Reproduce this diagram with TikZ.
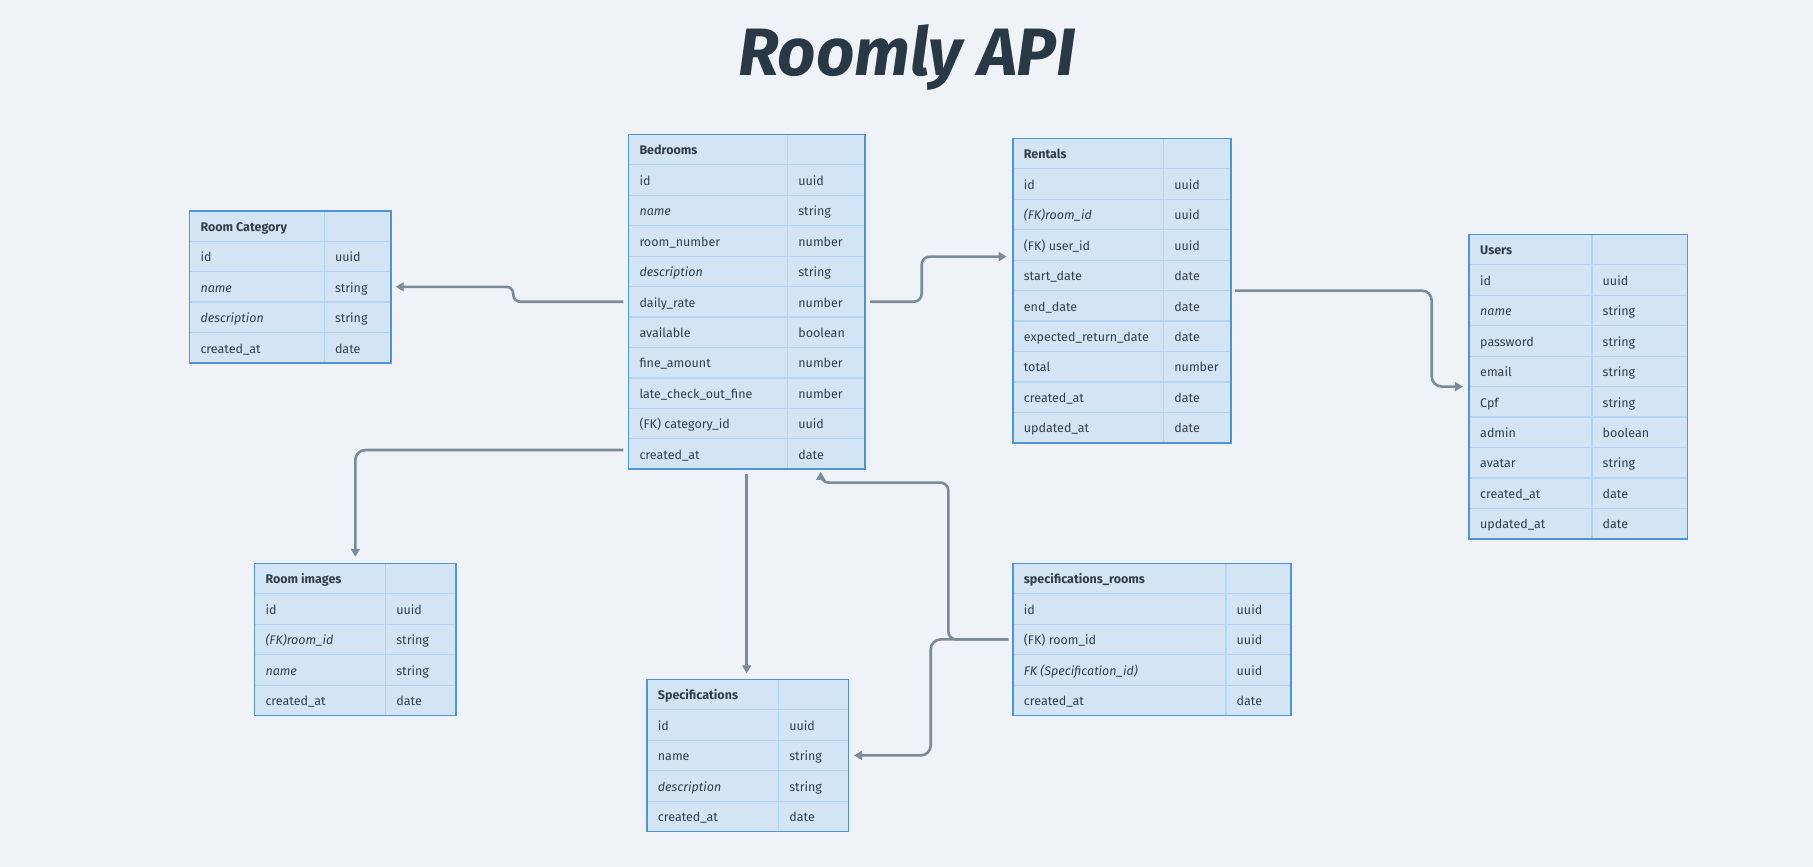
\documentclass[tikz,border=0pt]{standalone}
\usepackage{fontspec}
\setmainfont{Fira Sans}
\usetikzlibrary{arrows.meta}
\definecolor{bg}{HTML}{EFF3F7}
\definecolor{cellfill}{HTML}{D3E5F5}
\definecolor{innerc}{HTML}{B3D4F2}
\definecolor{bordc}{HTML}{4D94DB}
\definecolor{txt}{HTML}{333E49}
\definecolor{titlec}{HTML}{283845}
\definecolor{connc}{HTML}{7C8B9A}
\tikzset{
  cell/.style={draw=innerc, fill=cellfill, line width=1.2pt, minimum height=30.45pt, inner sep=0pt, outer sep=0pt, anchor=north west},
  ctext/.style={anchor=base west, inner sep=0pt, text=txt, font=\fontsize{12.5}{14}\selectfont},
  htext/.style={ctext, font=\fontsize{12.5}{14}\selectfont\bfseries},
  tabborder/.style={draw=bordc, line width=1.6pt},
  conn/.style={draw=connc, line width=2.6pt, rounded corners=9pt, -{Triangle[length=8pt,width=9pt]}},
}
\newcommand\erdtab[7]{%
  \node[cell, minimum width=#4pt] (#1-h) at (#2,#3) {};
  \node[cell, minimum width=#5pt] (#1-ht) at (#1-h.north east) {};
  \node[htext] (#1-hl) at ([xshift=11pt,yshift=-5.3pt]#1-h.west) {#6};
  \foreach \a/\b [count=\i] in {#7} {
    \node[cell, minimum width=#4pt] (#1-\i) at ({#2},{#3+\i*30.45}) {};
    \node[cell, minimum width=#5pt] (#1-\i t) at (#1-\i.north east) {};
    \node[ctext] (#1-\i l) at ([xshift=11pt,yshift=-5.3pt]#1-\i.west) {\a};
    \node[ctext] (#1-\i r) at ([xshift=10.5pt,yshift=-5.3pt]#1-\i t.west) {\b};
    \xdef\erdlast{\i}
  }
  \draw[tabborder] (#1-h.north west) rectangle (#1-\erdlast t.south east);
}
\begin{document}
\begin{tikzpicture}[x=1pt,y=-1pt]
\fill[bg] (0,0) rectangle (1813,867);
\useasboundingbox (0,0) rectangle (1813,867);

\node[font=\fontsize{67}{70}\selectfont\bfseries\itshape, text=titlec, anchor=base, inner sep=0pt] (title) at (907,76) {Roomly API};

\erdtab{cat}{189.3}{210.7}{135}{66.4}{Room Category}{id/uuid, \textit{name}/string, \textit{description}/string, created\_at/date}
\erdtab{bed}{628.3}{134.3}{159.4}{77.3}{Bedrooms}{id/uuid, \textit{name}/string, room\_number/number, \textit{description}/string, daily\_rate/number, available/boolean, fine\_amount/number, late\_check\_out\_fine/number, {(FK) category\_id}/uuid, created\_at/date}
\erdtab{ren}{1012.7}{138.3}{151}{67.3}{Rentals}{id/uuid, {\textit{(FK)room\_id}}/uuid, {(FK) user\_id}/uuid, start\_date/date, end\_date/date, expected\_return\_date/date, total/number, created\_at/date, updated\_at/date}
\erdtab{usr}{1469}{234.3}{123}{95.3}{Users}{id/uuid, \textit{name}/string, password/string, email/string, Cpf/string, admin/boolean, avatar/string, created\_at/date, updated\_at/date}
\erdtab{img}{254.3}{563.3}{131.4}{70}{Room images}{id/uuid, {\textit{(FK)room\_id}}/string, \textit{name}/string, created\_at/date}
\erdtab{spec}{646.7}{679.3}{132}{69.6}{Specifications}{id/uuid, name/string, \textit{description}/string, created\_at/date}
\erdtab{sr}{1012.7}{563.3}{213.3}{65}{specifications\_rooms}{id/uuid, {(FK) room\_id}/uuid, {\textit{FK (Specification\_id)}}/uuid, created\_at/date}

% connectors
\draw[conn, rounded corners=7pt] ([xshift=-5pt]bed-5.west) -- ([xshift=-115pt]bed-5.west) |- ([xshift=5pt]cat-2t.east);
\draw[conn, rounded corners=8pt] ([xshift=5pt]bed-5t.east) -- ([xshift=56.7pt]bed-5t.east) |- ([xshift=-6pt,yshift=3.5pt]ren-3.south west);
\draw[conn, rounded corners=10pt] ([xshift=4pt]ren-4t.south east) -| ([xshift=-37.3pt]usr-4.south west) -- ([xshift=-6pt]usr-4.south west);
\draw[conn, rounded corners=10pt] ([xshift=-5pt,yshift=4pt]bed-10.west) -| ([xshift=101pt,yshift=6.5pt]img-h.north west);
\draw[conn] ([xshift=118.4pt,yshift=-5pt]bed-10.south west) -- ([xshift=100pt,yshift=6pt]spec-h.north west);
\draw[conn, rounded corners=8pt] ([xshift=-4.4pt]sr-2.west) -- ([xshift=-64.4pt]sr-2.west) |- ([xshift=33pt,yshift=-13.3pt]bed-10t.south west) -- ([xshift=33pt,yshift=-2.7pt]bed-10t.south west);
\draw[conn, rounded corners=10pt] ([xshift=-4.4pt]sr-2.west) -- ([xshift=-82pt]sr-2.west) |- ([xshift=5.7pt]spec-2t.east);
\end{tikzpicture}
\end{document}
